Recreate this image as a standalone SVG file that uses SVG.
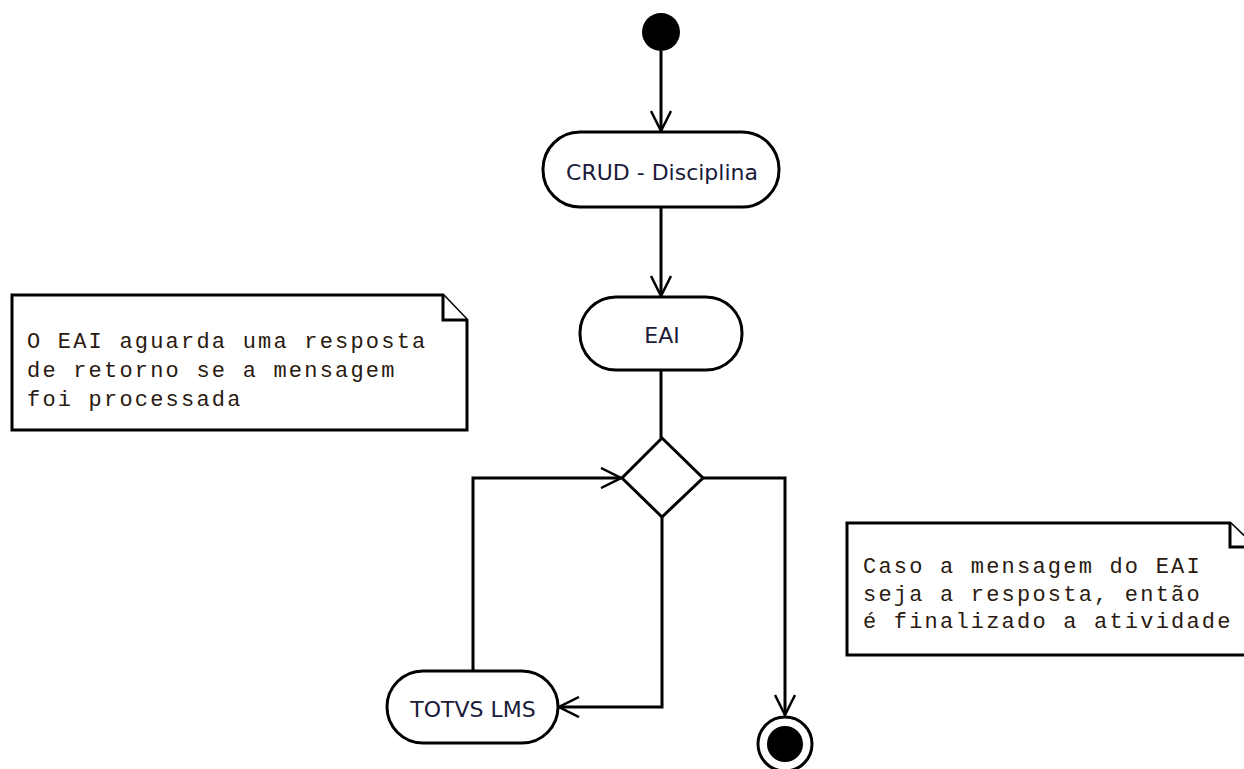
<svg xmlns="http://www.w3.org/2000/svg" width="1244" height="769" viewBox="0 0 1244 769">
<style>
.act{fill:#fff;stroke:#000;stroke-width:3}
.lbl{font-family:"DejaVu Sans",sans-serif;font-size:22px;fill:#1a1a3a;text-anchor:middle}
.note{fill:#fff;stroke:#000;stroke-width:3}
.ntxt{font-family:"Liberation Mono","Courier New",monospace;font-size:22px;letter-spacing:2.2px;fill:#2a1a10}
.con{fill:none;stroke:#000;stroke-width:3}
</style>
<defs>
<marker id="arr" viewBox="0 0 22 22" refX="21" refY="11" markerWidth="22" markerHeight="22" markerUnits="userSpaceOnUse" orient="auto">
<path d="M1,1 L21,11 L1,21" fill="none" stroke="#000" stroke-width="2.5"/>
</marker>
</defs>
<rect width="1244" height="769" fill="#fff"/>
<g id="connectors">
<path class="con" d="M661,51 V131" marker-end="url(#arr)"/>
<path class="con" d="M661,207 V296" marker-end="url(#arr)"/>
<path class="con" d="M661,370 V438"/>
<path class="con" d="M662,517 V707 H559" marker-end="url(#arr)"/>
<path class="con" d="M473,671 V478 H621" marker-end="url(#arr)"/>
<path class="con" d="M703,478 H785 V715" marker-end="url(#arr)"/>
</g>
<g id="start"><circle cx="661" cy="32" r="19" fill="#000"/></g>
<g id="crud"><rect class="act" x="543" y="132" width="236" height="75" rx="37" ry="37"/><text class="lbl" x="662" y="180">CRUD - Disciplina</text></g>
<g id="eai"><rect class="act" x="580" y="297" width="162" height="73" rx="36" ry="36"/><text class="lbl" x="662" y="343">EAI</text></g>
<g id="decision"><polygon class="act" points="662,438 703,478 662,517 622,478"/></g>
<g id="totvs"><rect class="act" x="387" y="671" width="171" height="72" rx="36" ry="36"/><text class="lbl" x="473" y="717">TOTVS LMS</text></g>
<g id="end"><circle cx="785" cy="744" r="27" fill="#fff" stroke="#000" stroke-width="3"/><circle cx="785" cy="744" r="18" fill="#000"/></g>
<g id="note1">
<path class="note" d="M12,295 H443 L467,320 V430 H12 Z"/>
<path class="note" d="M443,295 V320 H467" fill="none"/>
<text class="ntxt"><tspan x="27" y="348">O EAI aguarda uma resposta</tspan><tspan x="27" y="377">de retorno se a mensagem</tspan><tspan x="27" y="406">foi processada</tspan></text>
</g>
<g id="note2">
<path class="note" d="M847,523 H1230 L1255,547 V655 H847 Z"/>
<path class="note" d="M1230,523 V547 H1255" fill="none"/>
<text class="ntxt"><tspan x="863" y="573">Caso a mensagem do EAI</tspan><tspan x="863" y="601">seja a resposta, então</tspan><tspan x="863" y="628">é finalizado a atividade</tspan></text>
</g>
</svg>
